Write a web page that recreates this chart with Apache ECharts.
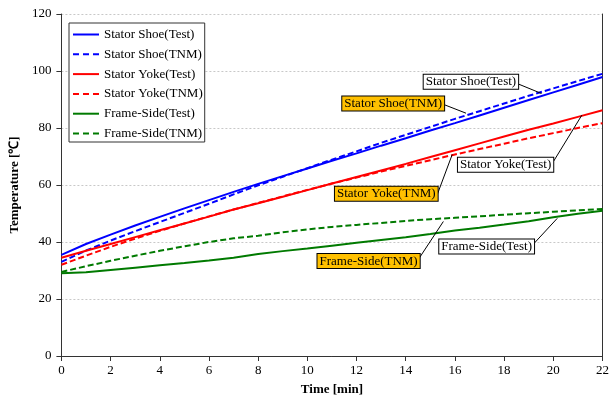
<!DOCTYPE html>
<html>
<head>
<meta charset="utf-8">
<script src="https://cdn.jsdelivr.net/npm/echarts@6/dist/echarts.min.js"></script>
<style>
  html, body { margin: 0; padding: 0; background: #fff; }
  #main { width: 612px; height: 401px; }
</style>
</head>
<body>
<div id="main"></div>
<script>
// 时间 [min]
var time = [0, 1, 2, 3, 4, 5, 6, 7, 8, 9, 10, 11, 12, 13, 14, 15, 16, 17, 18, 19, 20, 21, 22];

// 温度 [℃]
var shoeTest = [35.5, 39.3, 42.6, 45.8, 48.8, 51.8, 54.7, 57.6, 60.4, 63.1, 65.8, 68.5, 71.1, 73.8, 76.4, 79.1, 81.7, 84.4, 87.1, 89.8, 92.5, 95.2, 97.9];
var shoeTNM = [33, 37, 40.5, 43.8, 47, 50.2, 53.4, 56.7, 59.9, 62.9, 65.9, 68.9, 71.8, 74.8, 77.6, 80.4, 83.2, 85.9, 88.6, 91.3, 93.9, 96.5, 99];
var yokeTest = [34.5, 36.9, 39.3, 41.7, 44.1, 46.5, 48.9, 51.4, 53.6, 55.9, 58.2, 60.5, 62.8, 65.1, 67.4, 69.8, 72.2, 74.6, 77, 79.4, 81.6, 83.9, 86.2];
var yokeTNM = [32, 35.2, 38.3, 41.2, 43.9, 46.5, 49, 51.4, 53.7, 56, 58.3, 60.5, 62.6, 64.7, 66.7, 68.7, 70.7, 72.6, 74.5, 76.4, 78.2, 80, 81.7];
var frameTest = [29, 29.4, 30.2, 31, 31.8, 32.6, 33.5, 34.5, 35.8, 36.8, 37.7, 38.7, 39.7, 40.7, 41.7, 42.8, 44, 45, 46.1, 47.3, 48.7, 49.9, 51];
var frameTNM = [29.5, 31.5, 33.4, 35.2, 36.9, 38.5, 40, 41.3, 42.2, 43.4, 44.4, 45.3, 46, 46.7, 47.4, 48, 48.5, 49, 49.6, 50.1, 50.6, 51.1, 51.6];

var names = ['Stator Shoe(Test)', 'Stator Shoe(TNM)', 'Stator Yoke(Test)', 'Stator Yoke(TNM)', 'Frame-Side(Test)', 'Frame-Side(TNM)'];

// 标注：标签中心、箭头起点、箭头终点（数据坐标）
var labelAt = [[16.65, 96.2], [13.49, 88.6], [18.06, 67.1], [13.21, 56.9], [17.29, 38.4], [12.49, 33.3]];
var arrowFrom = [[18.56, 95.5], [15.53, 88.3], [19.96, 67.6], [15.25, 55.9], [19.12, 38.6], [14.53, 34.1]];
var arrowTo = [[19.52, 92.1], [16.45, 85.2], [21.16, 84.5], [15.89, 70.7], [20.16, 48.3], [15.53, 47.2]];

(function () {
  var myChart = echarts.init(document.getElementById('main'));
  var font = 'Liberation Serif';
  var values = [shoeTest, shoeTNM, yokeTest, yokeTNM, frameTest, frameTNM];
  var colors = ['#0000ff', '#0000ff', '#ff0000', '#ff0000', '#007a00', '#007a00'];
  var boxColors = ['#ffffff', '#ffc000', '#ffffff', '#ffc000', '#ffffff', '#ffc000'];
  // 图例图标：实线 / 虚线
  var solidIcon = 'path://M0,0h26v2h-26z';
  var dashIcon = 'path://M0,0h6v2h-6z M10,0h6v2h-6z M20,0h6v2h-6z';

  var series = values.map(function (vals, i) {
    var dashed = i % 2 === 1;
    return {
      name: names[i],
      type: 'line',
      symbol: 'none',
      data: vals.map(function (v, k) { return [time[k], v]; }),
      lineStyle: { color: colors[i], width: 2, type: dashed ? [6, 3] : 'solid' },
      itemStyle: { color: colors[i] },
      z: 3,
      markLine: {
        silent: true,
        symbol: ['none', 'arrow'],
        symbolSize: [0, 7],
        lineStyle: { color: '#000', width: 1, type: 'solid' },
        label: { show: false },
        data: [[{ coord: arrowFrom[i] }, { coord: arrowTo[i] }]]
      },
      markPoint: {
        silent: true,
        symbol: 'rect',
        symbolSize: 1,
        itemStyle: { color: 'rgba(0,0,0,0)' },
        label: {
          show: true,
          position: 'inside',
          formatter: names[i],
          color: '#000',
          fontFamily: font,
          fontSize: 13,
          backgroundColor: boxColors[i],
          borderColor: '#000',
          borderWidth: 1,
          padding: [1, 2, 0, 2]
        },
        data: [{ coord: labelAt[i] }]
      }
    };
  });

  var option = {
    animation: false,
    grid: { left: 58, right: 3, top: 14, bottom: 39 },
    legend: {
      orient: 'vertical',
      left: 69,
      top: 23,
      itemWidth: 26,
      itemHeight: 2,
      itemGap: 4.8,
      padding: [4, 2, 1, 4],
      borderColor: '#333',
      borderWidth: 1,
      backgroundColor: '#fff',
      textStyle: { fontFamily: font, fontSize: 13, color: '#000', lineHeight: 15 },
      data: names.map(function (n, i) {
        return { name: n, icon: i % 2 === 1 ? dashIcon : solidIcon };
      })
    },
    xAxis: {
      type: 'value',
      min: 0,
      max: 22,
      interval: 2,
      name: 'Time [min]',
      nameLocation: 'middle',
      nameGap: 27,
      nameTextStyle: { fontFamily: font, fontSize: 13, fontWeight: 'bold', color: '#000' },
      axisLine: { lineStyle: { color: '#333' } },
      axisTick: { inside: false, length: 5, lineStyle: { color: '#333' } },
      axisLabel: { fontFamily: font, fontSize: 13, color: '#000', margin: 8 },
      splitLine: { show: false }
    },
    yAxis: [
      {
        type: 'value',
        min: 0,
        max: 120,
        interval: 20,
        name: 'Temperature [℃]',
        nameLocation: 'middle',
        nameGap: 40,
        nameTextStyle: { fontFamily: font, fontSize: 13, fontWeight: 'bold', color: '#000' },
        axisLine: { show: true, lineStyle: { color: '#333' } },
        axisTick: { show: true, length: 5, lineStyle: { color: '#333' } },
        axisLabel: { fontFamily: font, fontSize: 13, color: '#000', margin: 10 },
        splitLine: { lineStyle: { color: '#c8c8c8', type: [2, 2] } }
      },
      {
        type: 'value',
        min: 0,
        max: 120,
        position: 'right',
        axisLine: { show: true, lineStyle: { color: '#333' } },
        axisTick: { show: false },
        axisLabel: { show: false },
        splitLine: { show: false }
      }
    ],
    series: series
  };

  myChart.setOption(option);
  window.addEventListener('resize', function () {
    myChart.resize();
  });
})();
</script>
</body>
</html>
